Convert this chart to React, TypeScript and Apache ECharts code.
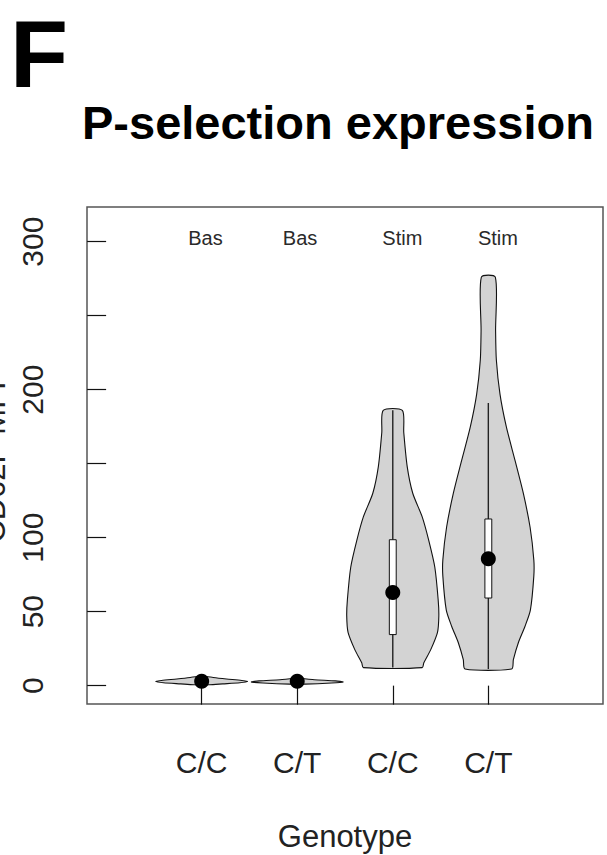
import React, { useEffect, useRef } from "react";
import * as echarts from "echarts";

// ---- data ----
const genotypes = ["C/C", "C/T", "C/C", "C/T"];
const conditions = ["Bas", "Bas", "Stim", "Stim"];
const yTicks = [0, 50, 100, 150, 200, 250, 300];
const yTickLabels = [0, 50, 100, 200, 300];

// violin outlines: value levels (bottom -> top) and half-widths (in category units)
const basCCLevels = [0.6, 1.2, 2.0, 2.8, 3.5, 4.5, 5.5, 6.2];
const basCCWidths = [0.08, 0.22, 0.4, 0.48, 0.42, 0.26, 0.12, 0.05];
const basCTLevels = [1.0, 1.8, 2.5, 3.2, 4.0, 4.8];
const basCTWidths = [0.08, 0.36, 0.48, 0.4, 0.18, 0.05];
const stimCCLevels = [12.2, 15.5, 24, 36, 47, 58, 80, 98, 114, 130, 148, 171, 186];
const stimCCWidths = [0.308, 0.325, 0.395, 0.468, 0.482, 0.475, 0.44, 0.377, 0.308, 0.209, 0.151, 0.115, 0.1];
const stimCTLevels = [11.3, 17.6, 29, 40, 51, 74, 85, 107, 130, 152, 175, 197, 220, 240, 276];
const stimCTWidths = [0.244, 0.262, 0.314, 0.383, 0.44, 0.476, 0.476, 0.437, 0.366, 0.28, 0.188, 0.122, 0.084, 0.076, 0.073];

const medians = [2.9, 2.9, 63, 85.8];
const q1 = [2.3, 2.4, 34.5, 59.2];
const q3 = [3.6, 3.4, 98.6, 112.6];
const whiskerLow = [0.6, 1.0, 12.2, 11.3];
const whiskerHigh = [6.2, 4.8, 186, 191];

const violinLevels = [basCCLevels, basCTLevels, stimCCLevels, stimCTLevels];
const violinWidths = [basCCWidths, basCTWidths, stimCCWidths, stimCTWidths];

const FONT = '"Liberation Sans", Arial, Helvetica, sans-serif';

export default function App() {
  const ref = useRef<HTMLDivElement>(null);

  useEffect(() => {
    if (!ref.current) return;
    const chart = echarts.init(ref.current, null, { renderer: "svg" });

    const positions = genotypes.map((_, i) => i + 1);
    const labelNudge = [0.04, 0.03, 0.1, 0.1];
    const labelY = 302.5;

    const option: any = {
      animation: false,
      backgroundColor: "#ffffff",
      grid: {
        left: 87,
        top: 207,
        right: 4,
        bottom: 151,
        show: true,
        borderColor: "#555",
        borderWidth: 1.5,
        backgroundColor: "transparent",
      },
      xAxis: {
        type: "value",
        min: -0.2,
        max: 5.2,
        axisLine: { show: false },
        splitLine: { show: false },
        axisTick: {
          show: true,
          inside: false,
          length: 19,
          customValues: positions,
          lineStyle: { color: "#111", width: 1.2 },
        },
        axisLabel: {
          show: true,
          margin: 43,
          customValues: positions,
          formatter: (v: number) => genotypes[Math.round(v) - 1] ?? "",
          fontSize: 30,
          fontFamily: FONT,
          color: "#222",
        },
      },
      yAxis: {
        type: "value",
        min: -12.4,
        max: 323.4,
        axisLine: { show: false },
        splitLine: { show: false },
        axisTick: {
          show: true,
          inside: false,
          length: 19,
          customValues: yTicks,
          lineStyle: { color: "#111", width: 1.2 },
        },
        axisLabel: {
          show: true,
          rotate: 90,
          margin: 40,
          customValues: yTickLabels,
          fontSize: 30,
          fontFamily: FONT,
          color: "#222",
        },
      },
      series: [
        {
          type: "custom",
          data: positions.map((p) => [p]),
          z: 2,
          renderItem: (params: any, api: any) => {
            const i = params.dataIndex;
            const cx = api.value(0);
            const lv = violinLevels[i];
            const wd = violinWidths[i];
            const right = lv.map((v, k) => api.coord([cx + wd[k], v]));
            const left = lv.map((v, k) => api.coord([cx - wd[k], v])).reverse();
            const pts = right.concat(left);
            const boxHalf = 0.036;
            const tl = api.coord([cx - boxHalf, q3[i]]);
            const br = api.coord([cx + boxHalf, q1[i]]);
            const wTop = api.coord([cx, whiskerHigh[i]]);
            const wBot = api.coord([cx, whiskerLow[i]]);
            return {
              type: "group",
              children: [
                {
                  type: "polygon",
                  shape: { points: pts, smooth: 0.25 },
                  style: { fill: "#d3d3d3", stroke: "#111", lineWidth: 1.1 },
                },
                {
                  type: "line",
                  shape: { x1: wTop[0], y1: wTop[1], x2: wBot[0], y2: wBot[1] },
                  style: { stroke: "#222", lineWidth: 1.4 },
                },
                {
                  type: "rect",
                  shape: { x: tl[0], y: tl[1], width: br[0] - tl[0], height: br[1] - tl[1] },
                  style: { fill: "#ffffff", stroke: "#111", lineWidth: 1 },
                },
              ],
            };
          },
        },
        {
          type: "scatter",
          z: 3,
          symbol: "circle",
          symbolSize: 15,
          itemStyle: { color: "#000", opacity: 1 },
          data: positions.map((p, i) => [p, medians[i]]),
        },
        {
          type: "scatter",
          z: 4,
          symbolSize: 0,
          silent: true,
          itemStyle: { opacity: 1 },
          data: positions.map((p, i) => ({ value: [p + labelNudge[i], labelY], name: conditions[i] })),
          label: {
            show: true,
            position: "inside",
            formatter: (p: any) => p.name,
            fontSize: 20,
            fontFamily: FONT,
            color: "#2a2a2a",
          },
        },
      ],
      graphic: [
        {
          type: "text",
          x: 10,
          y: 54,
          style: {
            text: "F",
            font: `bold 95px ${FONT}`,
            fill: "#000",
            align: "left",
            verticalAlign: "middle",
          },
        },
        {
          type: "text",
          x: 82,
          y: 122.5,
          style: {
            text: "P-selection expression",
            font: `bold 47px ${FONT}`,
            fill: "#000",
            align: "left",
            verticalAlign: "middle",
          },
        },
        {
          type: "text",
          x: -6,
          y: 462,
          rotation: Math.PI / 2,
          style: {
            text: "CD62P MFI",
            font: `31px ${FONT}`,
            fill: "#222",
            align: "center",
            verticalAlign: "middle",
          },
        },
        {
          type: "text",
          x: 345,
          y: 836,
          style: {
            text: "Genotype",
            font: `31px ${FONT}`,
            fill: "#222",
            align: "center",
            verticalAlign: "middle",
          },
        },
      ],
    };

    chart.setOption(option);
    return () => chart.dispose();
  }, []);

  return (
    <div
      ref={ref}
      style={{ position: "fixed", left: 0, top: 0, width: 607, height: 855, background: "#fff" }}
    />
  );
}
